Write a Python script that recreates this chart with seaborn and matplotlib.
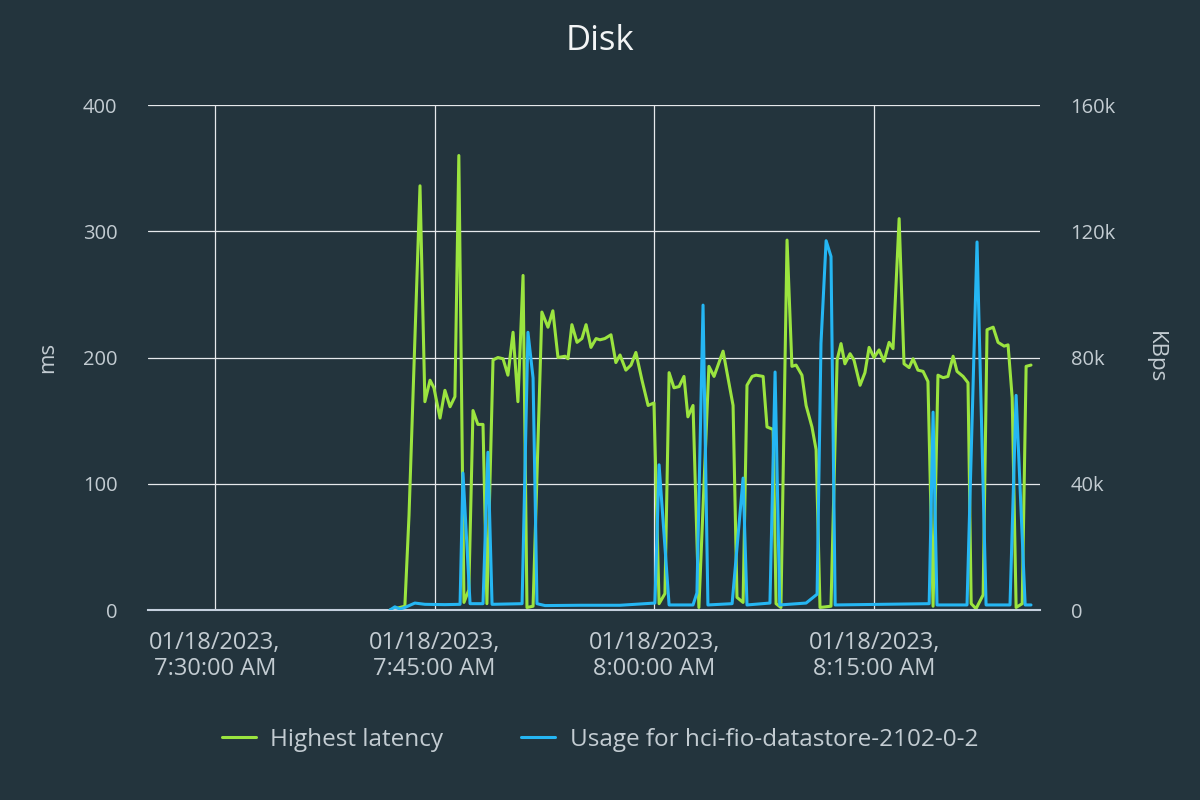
import pandas as pd
import seaborn as sns
import matplotlib.pyplot as plt
import matplotlib.dates as mdates
from matplotlib.ticker import FuncFormatter

# Highest latency (ms), vertices
lat_times = ["07:41:57", "07:42:58", "07:43:15", "07:44:00", "07:44:20", "07:44:41",
             "07:44:57", "07:45:22", "07:45:42", "07:46:03", "07:46:23", "07:46:39", "07:47:00",
             "07:47:20", "07:47:37", "07:47:57", "07:48:18", "07:48:34", "07:48:59", "07:49:19",
             "07:49:40", "07:50:00", "07:50:21", "07:50:41", "07:51:02", "07:51:18", "07:51:43",
             "07:52:19", "07:52:44", "07:53:04", "07:53:25", "07:53:54", "07:54:06", "07:54:22",
             "07:54:43", "07:55:03", "07:55:20", "07:55:40", "07:56:01", "07:56:17", "07:56:37",
             "07:57:02", "07:57:22", "07:57:39", "07:58:03", "07:58:24", "07:58:44", "07:59:09",
             "07:59:34", "07:59:58", "08:00:19", "08:00:43", "08:01:00", "08:01:20", "08:01:41",
             "08:02:01", "08:02:17", "08:02:38", "08:03:02", "08:03:43", "08:04:04", "08:04:41",
             "08:05:22", "08:05:38", "08:06:03", "08:06:19", "08:06:40", "08:06:56", "08:07:25",
             "08:07:41", "08:08:06", "08:08:18", "08:08:38", "08:09:03", "08:09:23", "08:09:40",
             "08:10:04", "08:10:21", "08:10:45", "08:11:02", "08:11:18", "08:12:03", "08:12:28",
             "08:12:44", "08:13:00", "08:13:21", "08:13:37", "08:14:02", "08:14:22", "08:14:39",
             "08:14:59", "08:15:20", "08:15:40", "08:16:01", "08:16:17", "08:16:42", "08:17:02",
             "08:17:23", "08:17:39", "08:17:59", "08:18:20", "08:18:40", "08:19:01", "08:19:21",
             "08:19:42", "08:20:02", "08:20:23", "08:20:39", "08:21:04", "08:21:24", "08:21:37",
             "08:21:57", "08:22:26", "08:22:42", "08:23:07", "08:23:27", "08:23:52", "08:24:08",
             "08:24:25", "08:24:41", "08:25:06", "08:25:22", "08:25:42"]
lat_ms = [0, 3, 75, 336, 165, 182,
          176, 152, 174, 161, 169, 360, 6,
          16, 158, 147, 147, 5, 198, 200,
          199, 186, 220, 165, 265, 2, 3,
          236, 224, 237, 200, 201, 199, 226,
          212, 215, 226, 208, 215, 214, 215,
          218, 196, 202, 190, 194, 204, 182,
          162, 164, 5, 13, 188, 176, 177,
          185, 153, 162, 2, 193, 185, 205,
          162, 10, 6, 178, 185, 186, 185,
          145, 143, 5, 2, 293, 193, 194,
          186, 162, 145, 127, 2, 3, 198,
          211, 195, 203, 198, 178, 188, 208,
          200, 206, 197, 212, 207, 310, 195,
          192, 199, 190, 189, 181, 3, 186,
          184, 185, 201, 189, 185, 180, 5,
          1, 12, 222, 224, 212, 209, 210,
          168, 2, 5, 193, 194]

# Usage for hci-fio-datastore-2102-0-2 (KBps)
use_times = ["07:41:57", "07:42:17", "07:42:38", "07:42:58", "07:43:39", "07:44:20",
             "07:45:42", "07:46:44", "07:46:56", "07:47:25", "07:48:18", "07:48:38", "07:48:55",
             "07:50:58", "07:51:22", "07:51:43", "07:51:59", "07:52:32", "07:54:55", "07:57:39",
             "08:00:02", "08:00:19", "08:01:00", "08:02:38", "08:02:54", "08:03:19", "08:03:39",
             "08:05:18", "08:06:03", "08:06:19", "08:07:53", "08:08:14", "08:08:33", "08:10:21",
             "08:11:06", "08:11:22", "08:11:43", "08:12:03", "08:12:20", "08:18:45", "08:19:01",
             "08:19:17", "08:21:20", "08:22:01", "08:22:38", "08:24:16", "08:24:41", "08:25:18",
             "08:25:42"]
use_kbps = [0, 1000, 300, 800, 2200, 1800,
            1700, 1800, 43400, 2000, 2000, 50000, 1800,
            2000, 88000, 73500, 2000, 1400, 1500, 1500,
            2200, 46000, 1600, 1600, 5400, 96600, 1600,
            2000, 41800, 1600, 2200, 75400, 1600, 2200,
            5000, 84500, 117000, 112000, 1600, 2000, 62700,
            1600, 1600, 116600, 1600, 1600, 68000, 1600,
            1600]

tick_times = ["07:30:00", "07:45:00", "08:00:00", "08:15:00"]

day = "2023-01-18 "
lat_df = pd.DataFrame({"time": pd.to_datetime([day + t for t in lat_times]), "ms": lat_ms})
use_df = pd.DataFrame({"time": pd.to_datetime([day + t for t in use_times]), "kbps": use_kbps})

bg = "#23343d"
txt = "#c3ccd2"
green = "#9be43f"
blue = "#25b6f3"

sns.set_theme(style="dark")
plt.rcParams["font.family"] = ["Open Sans", "DejaVu Sans"]

fig = plt.figure(figsize=(12, 8), dpi=100, facecolor=bg)
ax = fig.add_axes([0.1233, 0.2375, 0.7434, 0.63125])
ax.set_facecolor(bg)
ax2 = ax.twinx()

sns.lineplot(data=lat_df, x="time", y="ms", ax=ax, color=green, linewidth=2.2,
             label="Highest latency", legend=False)
sns.lineplot(data=use_df, x="time", y="kbps", ax=ax2, color=blue, linewidth=2.2,
             label="Usage for hci-fio-datastore-2102-0-2", legend=False)

ax.set_xlim(pd.Timestamp(day + "07:25:26"), pd.Timestamp(day + "08:26:19"))
ax.set_ylim(0, 400)
ax2.set_ylim(0, 160000)
ax.set_yticks([0, 100, 200, 300, 400])
ax2.set_yticks([0, 40000, 80000, 120000, 160000])
ax2.yaxis.set_major_formatter(FuncFormatter(lambda v, p: "0" if v == 0 else f"{int(v / 1000)}k"))

ticks = pd.to_datetime([day + t for t in tick_times])
ax.set_xticks(ticks)
ax.xaxis.set_major_formatter(FuncFormatter(
    lambda v, p: (lambda d: f"{d:%m/%d/%Y},\n{d.hour % 12 or 12}:{d:%M:%S %p}")(mdates.num2date(v))))

ax.grid(True, color="#e6e9ec", linewidth=0.9)
ax2.grid(False)
for a in (ax, ax2):
    for s in a.spines.values():
        s.set_visible(False)
ax.spines["bottom"].set_visible(True)
ax.spines["bottom"].set_color("#c5d0de")
ax.spines["bottom"].set_linewidth(1.5)

ax.tick_params(axis="x", colors=txt, labelsize=17, length=13, width=1.5, color="#c5d0de", pad=2)
ax.tick_params(axis="y", colors=txt, labelsize=14.5, length=0, pad=22)
ax2.tick_params(axis="y", colors=txt, labelsize=14.5, length=0, pad=22)
for lab in ax.get_xticklabels():
    lab.set_linespacing(1.1)

ax.set_xlabel("")
ax.set_ylabel("ms", color=txt, fontsize=16, labelpad=18)
ax2.set_ylabel("KBps", color=txt, fontsize=16, rotation=-90, labelpad=36)

fig.suptitle("Disk", color="#f2f4f5", fontsize=25, y=0.97)

h1, l1 = ax.get_legend_handles_labels()
h2, l2 = ax2.get_legend_handles_labels()
leg = fig.legend(h1 + h2, l1 + l2, loc="center", bbox_to_anchor=(0.5, 0.075), ncol=2,
                 frameon=False, fontsize=17.5, handlelength=1.4, handletextpad=0.6,
                 columnspacing=3.2)
for t in leg.get_texts():
    t.set_color(txt)

fig.savefig("out.png", dpi=100, facecolor=bg)
